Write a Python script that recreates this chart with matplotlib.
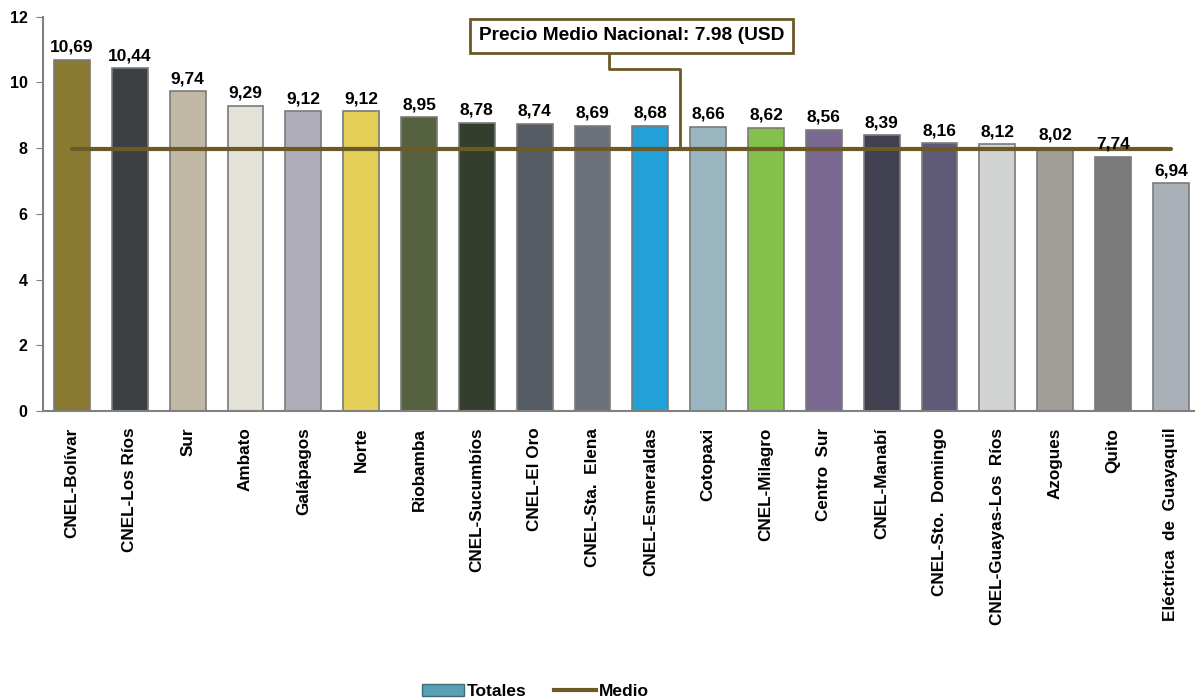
import matplotlib
matplotlib.use("Agg")
import matplotlib.pyplot as plt
from matplotlib.patches import Patch
from matplotlib.lines import Line2D

plt.rcParams['font.family'] = ['Liberation Sans', 'DejaVu Sans']
plt.rcParams['font.weight'] = 'bold'

categories = ["CNEL-Bolívar", "CNEL-Los Ríos", "Sur", "Ambato", "Galápagos", "Norte",
              "Riobamba", "CNEL-Sucumbíos", "CNEL-El Oro", "CNEL-Sta.  Elena",
              "CNEL-Esmeraldas", "Cotopaxi", "CNEL-Milagro", "Centro  Sur", "CNEL-Manabí",
              "CNEL-Sto.  Domingo", "CNEL-Guayas-Los  Ríos", "Azogues", "Quito",
              "Eléctrica  de  Guayaquil"]
totales = [10.69, 10.44, 9.74, 9.29, 9.12, 9.12, 8.95, 8.78, 8.74, 8.69,
           8.68, 8.66, 8.62, 8.56, 8.39, 8.16, 8.12, 8.02, 7.74, 6.94]
medio = 7.98
bar_colors = ["#8a7a30", "#3c4043", "#c0b8a5", "#e4e1d8", "#b0adbb", "#e4cf58",
              "#56623f", "#343e2c", "#555c63", "#6b7079", "#22a0d8", "#9ab6c0",
              "#84c04c", "#7a6890", "#404050", "#5e5a78", "#d2d3d3", "#a09d98",
              "#7a7a7a", "#aab0b8"]
line_color = "#6b5a25"

fig = plt.figure(figsize=(11.95, 6.99), dpi=100)
ax = fig.add_axes([0.036, 0.412, 0.968, 0.564])

x = list(range(len(categories)))
ax.bar(x, totales, width=0.62, color=bar_colors, edgecolor="#7a7a7a", linewidth=1.2, zorder=2)
ax.plot([x[0], x[-1]], [medio, medio], color=line_color, linewidth=3, solid_capstyle='round', zorder=3)

for xi, v in zip(x, totales):
    ax.text(xi, v + 0.15, f"{v:.2f}".replace(".", ","), ha="center", va="bottom",
            fontsize=12.5, fontweight="bold", zorder=4)

ax.set_xlim(-0.5, len(categories) - 0.5)
ax.set_ylim(0, 12)
ax.set_yticks(range(0, 13, 2))
ax.set_xticks(x)
ax.set_xticklabels(categories, rotation=90, fontsize=12.3, fontweight="bold")
ax.tick_params(axis='x', length=0, pad=12)
ax.tick_params(axis='y', labelsize=11.5, length=5, color="#808080", pad=6)
for lbl in ax.get_yticklabels():
    lbl.set_fontweight("bold")
for s in ["top", "right"]:
    ax.spines[s].set_visible(False)
for s in ["left", "bottom"]:
    ax.spines[s].set_color("#808080")
    ax.spines[s].set_linewidth(1.5)

# annotation callout (box + elbow connector)
ax.text(9.68, 11.42, "Precio Medio Nacional: 7.98 (USD", ha="center", va="center",
        fontsize=13.8, fontweight="bold", zorder=5,
        bbox=dict(boxstyle="square,pad=0.45", fc="white", ec=line_color, lw=2))
ax.plot([9.29, 9.29, 10.52, 10.52], [10.91, 10.40, 10.40, medio],
        color=line_color, lw=2, zorder=3, clip_on=False)

handles = [Patch(facecolor="#5aa0b5", edgecolor="#3c6a78", label="Totales"),
           Line2D([0], [0], color=line_color, lw=3, label="Medio")]
fig.legend(handles=handles, loc="lower center", bbox_to_anchor=(0.448, -0.022), ncol=2,
           frameon=False, prop={'weight': 'bold', 'size': 12.5}, handlelength=2.4,
           handletextpad=0.15, columnspacing=1.6)

fig.savefig("out.png", dpi=100)
